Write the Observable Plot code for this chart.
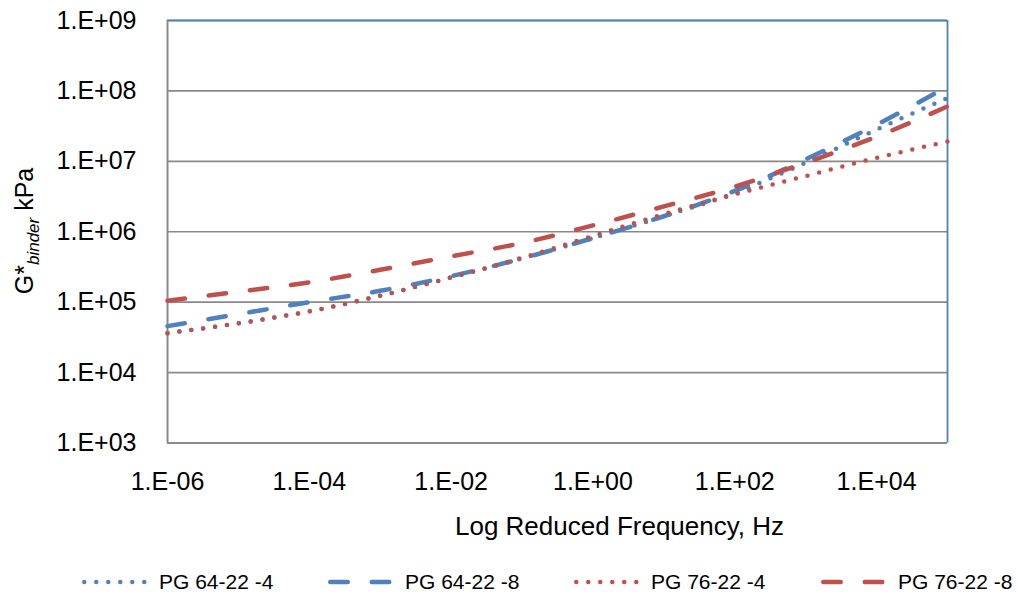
<!DOCTYPE html>
<html>
<head>
<meta charset="utf-8">
<script src="https://cdn.jsdelivr.net/npm/d3@7"></script>
<script src="https://cdn.jsdelivr.net/npm/@observablehq/plot@0.6"></script>
<style>
  html, body { margin: 0; padding: 0; background: #fff; }
  body { font-family: "Liberation Sans", Arial, sans-serif; color: #000; }
  #chart { position: relative; width: 1019px; height: 596px; }
  #chart svg { display: block; }
  #ytitle { position: absolute; left: 27px; top: 231px; transform: translate(-50%, -50%) rotate(-90deg);
            font-size: 25px; white-space: nowrap; line-height: 1; }
  #ytitle sub { font-style: italic; font-size: 17px; vertical-align: -0.35em; }
  #legend { position: relative; height: 41px; }
  .item { position: absolute; top: 6px; height: 41px; display: flex; align-items: center; font-size: 21px; white-space: nowrap; }
  .item svg { margin-right: 11px; }
</style>
</head>
<body>
<div id="chart">
  <div id="ytitle">G*<sub>binder</sub> kPa</div>
</div>
<script>
// Reduced frequency (Hz) at which the master curves are read
const freq = [1e-6, 1e-5, 1e-4, 1e-3, 1e-2, 1e-1, 1e0, 1e1, 1e2, 1e3, 1e4, 1e5];

// |G*| of the binder, kPa
const pg6422m4 = [3.63e4, 5.01e4, 7.41e4, 1.23e5, 2.24e5, 4.17e5, 8.13e5, 1.66e6, 3.55e6, 9.55e6, 2.82e7, 7.94e7];
const pg6422m8 = [4.57e4, 6.76e4, 1.00e5, 1.45e5, 2.34e5, 4.17e5, 8.13e5, 1.66e6, 3.80e6, 1.07e7, 3.31e7, 1.15e8];
const pg7622m4 = [3.63e4, 5.01e4, 7.41e4, 1.23e5, 2.24e5, 4.27e5, 8.71e5, 1.78e6, 3.39e6, 6.17e6, 1.12e7, 1.91e7];
const pg7622m8 = [1.05e5, 1.41e5, 1.91e5, 2.88e5, 4.47e5, 6.92e5, 1.23e6, 2.29e6, 4.37e6, 9.55e6, 2.24e7, 6.03e7];

const seriesNames = ["PG 64-22 -4", "PG 64-22 -8", "PG 76-22 -4", "PG 76-22 -8"];
const seriesValues = [pg6422m4, pg6422m8, pg7622m4, pg7622m8];
const seriesColors = ["#4F81BD", "#4F81BD", "#C0504D", "#C0504D"];
const seriesDash = ["0,12", "17.5,24", "0,12", "17.5,24"];

const xTicks = [1e-6, 1e-4, 1e-2, 1e0, 1e2, 1e4];
const yTicks = [1e3, 1e4, 1e5, 1e6, 1e7, 1e8, 1e9];
const xTitle = "Log Reduced Frequency, Hz";

// Excel-style scientific labels: 1.E-06, 1.E+04 ...
const sci = d => {
  const e = Math.round(Math.log10(d));
  return "1.E" + (e < 0 ? "-" : "+") + String(Math.abs(e)).padStart(2, "0");
};

const rows = seriesNames.flatMap((name, i) =>
  freq.map((f, j) => ({series: name, f, g: seriesValues[i][j]})));

const gridColor = "#898989";
const frameBlue = "#4F81BD";

const chart = Plot.plot({
  width: 1019,
  height: 555,
  marginLeft: 167,
  marginRight: 72,
  marginTop: 20,
  marginBottom: 112.5,
  style: {fontFamily: "'Liberation Sans', Arial, sans-serif", fontSize: "25px", color: "#000", background: "#fff"},
  x: {type: "log", domain: [1e-6, 1e5]},
  y: {type: "log", domain: [1e3, 1e9]},
  marks: [
    Plot.gridY(yTicks, {stroke: gridColor, strokeOpacity: 1, strokeWidth: 1.6}),
    Plot.ruleY([1e9], {stroke: frameBlue, strokeWidth: 1.8}),
    Plot.ruleX([1e5], {stroke: frameBlue, strokeWidth: 1.8}),
    Plot.ruleX([1e-6], {stroke: gridColor, strokeWidth: 2}),
    Plot.ruleY([1e3], {stroke: gridColor, strokeWidth: 2}),
    ...seriesNames.map((name, i) =>
      Plot.line(rows.filter(d => d.series === name), {
        x: "f", y: "g",
        stroke: seriesColors[i],
        strokeWidth: 4.5,
        strokeDasharray: seriesDash[i],
        strokeLinecap: "round",
        strokeLinejoin: "round",
        curve: "monotone-x"
      })),
    Plot.axisX(xTicks, {tickSize: 0, tickPadding: 29, tickFormat: sci, label: null, fontSize: 25}),
    Plot.axisY(yTicks, {tickSize: 0, tickPadding: 31, tickFormat: sci, label: null, fontSize: 25}),
    Plot.text([xTitle], {frameAnchor: "bottom", dx: 62, dy: 91.5, text: d => d, fontSize: 26, fill: "#000"})
  ]
});

const root = document.getElementById("chart");
root.insertBefore(chart, root.firstChild);

// Legend row beneath the plot
const legend = document.createElement("div");
legend.id = "legend";
const itemLeft = [82, 328, 574, 821];
seriesNames.forEach((name, i) => {
  const item = document.createElement("div");
  item.className = "item";
  item.style.left = itemLeft[i] + "px";
  const ns = "http://www.w3.org/2000/svg";
  const sw = document.createElementNS(ns, "svg");
  sw.setAttribute("width", 66);
  sw.setAttribute("height", 10);
  const ln = document.createElementNS(ns, "line");
  ln.setAttribute("x1", 2.25);
  ln.setAttribute("x2", 63);
  ln.setAttribute("y1", 5);
  ln.setAttribute("y2", 5);
  ln.setAttribute("stroke", seriesColors[i]);
  ln.setAttribute("stroke-width", 4.5);
  ln.setAttribute("stroke-linecap", "round");
  ln.setAttribute("stroke-dasharray", seriesDash[i]);
  sw.appendChild(ln);
  item.appendChild(sw);
  const t = document.createElement("span");
  t.textContent = name;
  item.appendChild(t);
  legend.appendChild(item);
});
root.appendChild(legend);
</script>
</body>
</html>
